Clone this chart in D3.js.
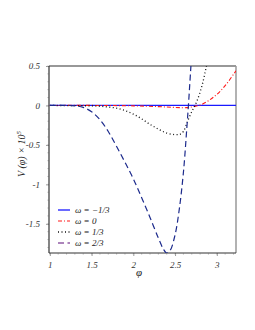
<!DOCTYPE html>
<head>
<meta charset="utf-8">
<script src="https://d3js.org/d3.v7.min.js"></script>
<style>
  body { margin: 0; background: #fff; }
  text { font-family: 'Liberation Serif', serif; font-style: italic; fill: #222; }
  .tick text { font-size: 9px; fill: #333; }
  .leg { font-size: 9px; }
</style>
</head>
<body>
<div id="chart"></div>
<script>
// ---------- data ----------
const xTicks = [1, 1.5, 2, 2.5, 3];
const yTicks = [0.5, 0, -0.5, -1, -1.5];

const phiM13 = [1, 3.23];
const vM13   = [0, 0];

const phi0 = [1, 1.6, 2.0, 2.3, 2.5, 2.64, 2.72, 2.8, 2.9, 3.0, 3.1, 3.23];
const v0   = [0, 0, -0.005, -0.015, -0.025, -0.028, -0.015, 0.005, 0.06, 0.14, 0.25, 0.44];

const phi13 = [1, 1.5, 1.6, 1.7, 1.8, 1.9, 2.0, 2.1, 2.2, 2.3, 2.4, 2.5, 2.56, 2.6, 2.65, 2.7, 2.76, 2.82, 2.86, 2.88];
const v13   = [0, -0.005, -0.01, -0.02, -0.035, -0.065, -0.11, -0.17, -0.24, -0.30, -0.35, -0.37, -0.365, -0.33, -0.2, -0.08, 0.05, 0.24, 0.42, 0.52];

const phi23 = [1, 1.2, 1.3, 1.4, 1.5, 1.6, 1.7, 1.8, 1.9, 2.0, 2.1, 2.2, 2.3, 2.36, 2.4, 2.44, 2.5, 2.55, 2.6, 2.64, 2.66, 2.69];
const v23   = [0, 0, -0.005, -0.025, -0.08, -0.18, -0.33, -0.52, -0.72, -0.93, -1.17, -1.42, -1.68, -1.82, -1.87, -1.84, -1.64, -1.32, -0.85, -0.3, 0, 0.5];

const labels = ["ω = −1/3", "ω = 0", "ω = 1/3", "ω = 2/3"];

// ---------- layout ----------
const W = 255, H = 330;
const m = { left: 49, top: 66, right: 19, bottom: 77 };
const w = W - m.left - m.right, h = H - m.top - m.bottom;

const svg = d3.select("#chart").append("svg")
  .attr("width", W).attr("height", H);
const g = svg.append("g").attr("transform", `translate(${m.left},${m.top})`);

const x = d3.scaleLinear().domain([0.99, 3.23]).range([0, w]);
const y = d3.scaleLinear().domain([-1.87, 0.5]).range([h, 0]);

svg.append("defs").append("clipPath").attr("id", "clip")
  .append("rect").attr("width", w).attr("height", h);

// minor ticks
const minorX = d3.range(1, 3.25, 0.1);
const minorY = d3.range(-1.8, 0.51, 0.1);

// axes
const xAxis = g.append("g").attr("transform", `translate(0,${h})`)
  .call(d3.axisBottom(x).tickValues(xTicks).tickSize(3).tickPadding(6)
    .tickFormat(d => d));
const yAxis = g.append("g")
  .call(d3.axisLeft(y).tickValues(yTicks).tickSize(3).tickPadding(6)
    .tickFormat(d => d));
[xAxis, yAxis].forEach(a => {
  a.select(".domain").remove();
  a.selectAll(".tick line").attr("stroke", "#999");
});
g.append("g").attr("transform", `translate(0,${h})`)
  .selectAll("line").data(minorX).join("line")
  .attr("x1", d => x(d)).attr("x2", d => x(d)).attr("y1", 0).attr("y2", 2)
  .attr("stroke", "#bbb").attr("stroke-width", 0.6);
g.append("g")
  .selectAll("line").data(minorY).join("line")
  .attr("y1", d => y(d)).attr("y2", d => y(d)).attr("x1", 0).attr("x2", -2)
  .attr("stroke", "#bbb").attr("stroke-width", 0.6);

// frame
g.append("line").attr("x1", 0).attr("x2", w).attr("y1", 0).attr("y2", 0).attr("stroke", "#333").attr("stroke-width", 1.2);
g.append("line").attr("x1", w).attr("x2", w).attr("y1", 0).attr("y2", h).attr("stroke", "#999").attr("stroke-width", 1.5);
g.append("line").attr("x1", 0).attr("x2", 0).attr("y1", 0).attr("y2", h).attr("stroke", "#333").attr("stroke-width", 1.2);
g.append("line").attr("x1", 0).attr("x2", w).attr("y1", h).attr("y2", h).attr("stroke", "#333").attr("stroke-width", 1.2);

// curves
const line = d3.line().x(d => x(d[0])).y(d => y(d[1])).curve(d3.curveCatmullRom.alpha(0.5));
const series = [
  { phi: phiM13, v: vM13, color: "#1a1aff", dash: null, width: 1.3, leg: "#1a1aff" },
  { phi: phi0, v: v0, color: "#ff1a1a", dash: "4,2,1,2", width: 1.1, leg: "#ff1a1a" },
  { phi: phi13, v: v13, color: "#111", dash: "1,2.5", width: 1.3, leg: "#111" },
  { phi: phi23, v: v23, color: "#1c2a8c", dash: "6,3.5", width: 1.2, leg: "#5a0a78" }
];
const cg = g.append("g").attr("clip-path", "url(#clip)");
series.forEach(s => {
  cg.append("path")
    .datum(d3.zip(s.phi, s.v))
    .attr("fill", "none")
    .attr("stroke", s.color)
    .attr("stroke-width", s.width)
    .attr("stroke-dasharray", s.dash)
    .attr("d", line);
});

// legend
const leg = g.append("g").attr("transform", "translate(9,144)");
series.forEach((s, i) => {
  const row = leg.append("g").attr("transform", `translate(0,${i * 11})`);
  row.append("line").attr("x1", 0).attr("x2", 12).attr("y1", 0).attr("y2", 0)
    .attr("stroke", s.leg).attr("stroke-width", s.width).attr("stroke-dasharray", s.dash);
  row.append("text").attr("class", "leg").attr("x", 17).attr("y", 3).text(labels[i]);
});

// axis titles
svg.append("text").attr("x", 139).attr("y", 276).attr("text-anchor", "middle")
  .style("font-size", "11px").text("φ");
const yl = svg.append("text").attr("transform", "translate(25,154) rotate(-90)")
  .attr("text-anchor", "middle").style("font-size", "10px");
yl.append("tspan").text("V (φ) × 10");
yl.append("tspan").attr("dy", -4).style("font-size", "7px").text("5");
</script>
</body>
